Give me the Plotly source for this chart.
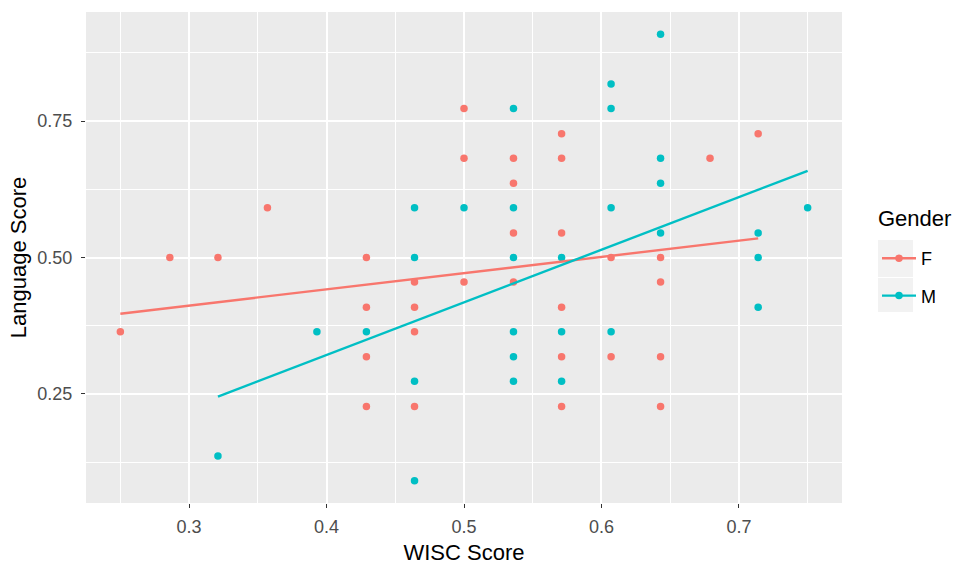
import plotly.graph_objects as go

# ---- data ----
f_wisc = [0.25, 0.286, 0.321, 0.357,
          0.429, 0.429, 0.429, 0.429,
          0.464, 0.464, 0.464, 0.464,
          0.5, 0.5, 0.5,
          0.536, 0.536, 0.536, 0.536,
          0.571, 0.571, 0.571, 0.571, 0.571, 0.571,
          0.607, 0.607,
          0.643, 0.643, 0.643, 0.643,
          0.679, 0.714]
f_lang = [0.364, 0.5, 0.5, 0.591,
          0.5, 0.409, 0.318, 0.227,
          0.455, 0.409, 0.364, 0.227,
          0.773, 0.682, 0.455,
          0.682, 0.636, 0.545, 0.455,
          0.727, 0.682, 0.545, 0.409, 0.318, 0.227,
          0.5, 0.318,
          0.5, 0.455, 0.318, 0.227,
          0.682, 0.727]

m_wisc = [0.321, 0.393, 0.429,
          0.464, 0.464, 0.464, 0.464,
          0.5,
          0.536, 0.536, 0.536, 0.536, 0.536, 0.536,
          0.571, 0.571, 0.571,
          0.607, 0.607, 0.607, 0.607,
          0.643, 0.643, 0.643, 0.643,
          0.714, 0.714, 0.714,
          0.75]
m_lang = [0.136, 0.364, 0.364,
          0.591, 0.5, 0.273, 0.091,
          0.591,
          0.773, 0.591, 0.5, 0.364, 0.318, 0.273,
          0.5, 0.364, 0.273,
          0.818, 0.773, 0.591, 0.364,
          0.909, 0.682, 0.636, 0.545,
          0.545, 0.5, 0.409,
          0.591]

# fitted (lm) line end points
f_fit_x = [0.25, 0.714]
f_fit_y = [0.397, 0.535]
m_fit_x = [0.321, 0.75]
m_fit_y = [0.245, 0.659]

x_ticks = [0.3, 0.4, 0.5, 0.6, 0.7]
x_ticktext = ["0.3", "0.4", "0.5", "0.6", "0.7"]
y_ticks = [0.25, 0.5, 0.75]
y_ticktext = ["0.25", "0.50", "0.75"]

F_COL = "#F8766D"
M_COL = "#00BFC4"
FONT = "Liberation Sans, Arial, sans-serif"

# layout geometry (pixels)
W, H = 957, 565
ML, MR, MT, MB = 86, 115, 12, 62
PW, PH = W - ML - MR, H - MT - MB


def px_x(p):
    return (p - ML) / PW


def px_y(p):
    return (H - MB - p) / PH


def gapped(vals):
    out = []
    for v in vals:
        out += [v, None]
    return out


fig = go.Figure()

for name, xs, ys, col, grp in [("F", f_wisc, f_lang, F_COL, "g1"),
                               ("M", m_wisc, m_lang, M_COL, "g2")]:
    fig.add_trace(go.Scatter(
        x=gapped(xs), y=gapped(ys), name=name, legendgroup=grp,
        mode="lines+markers", connectgaps=False,
        line=dict(color=col, width=2.4),
        marker=dict(color=col, size=7.5),
    ))

for xs, ys, col, grp in [(f_fit_x, f_fit_y, F_COL, "g1"),
                         (m_fit_x, m_fit_y, M_COL, "g2")]:
    fig.add_trace(go.Scatter(
        x=xs, y=ys, mode="lines", legendgroup=grp, showlegend=False,
        line=dict(color=col, width=2.4),
    ))

axis_common = dict(
    showgrid=True, gridcolor="white", gridwidth=1.8,
    zeroline=False, showline=False, automargin=False,
    ticks="outside", ticklen=4, tickwidth=1.1, tickcolor="#333333",
    tickfont=dict(family=FONT, size=18, color="#4D4D4D"),
)

# grey legend key backgrounds
key_boxes = [(878, 913, 240, 277), (878, 913, 278, 312)]
shapes = [dict(type="rect", xref="paper", yref="paper",
               x0=px_x(a), x1=px_x(b), y0=px_y(d), y1=px_y(c),
               fillcolor="#F2F2F2", line=dict(width=0), layer="below")
          for a, b, c, d in key_boxes]

fig.update_layout(
    width=W, height=H,
    margin=dict(l=ML, r=MR, t=MT, b=MB, autoexpand=False),
    paper_bgcolor="white", plot_bgcolor="#EBEBEB",
    font=dict(family=FONT),
    xaxis=dict(range=[0.225, 0.775], tickvals=x_ticks, ticktext=x_ticktext,
               ticklabelstandoff=3,
               minor=dict(tick0=0.25, dtick=0.1, showgrid=True,
                          gridcolor="white", gridwidth=0.9, ticks=""),
               title=dict(text="WISC Score",
                          font=dict(family=FONT, size=22, color="black")),
               **axis_common),
    yaxis=dict(range=[0.05, 0.95], tickvals=y_ticks, ticktext=y_ticktext,
               ticklabelstandoff=5,
               minor=dict(tick0=0.125, dtick=0.25, showgrid=True,
                          gridcolor="white", gridwidth=0.9, ticks=""),
               title=dict(text="Language Score", standoff=4,
                          font=dict(family=FONT, size=22, color="black")),
               **axis_common),
    legend=dict(
        x=px_x(877), xanchor="left", y=px_y(240), yanchor="top",
        font=dict(family=FONT, size=18, color="black"),
        bgcolor="rgba(0,0,0,0)", tracegroupgap=11, itemwidth=34,
    ),
    annotations=[dict(text="Gender", xref="paper", yref="paper",
                      x=px_x(876), y=px_y(218), xanchor="left", yanchor="middle",
                      showarrow=False,
                      font=dict(family=FONT, size=22, color="black"))],
    shapes=shapes,
    showlegend=True,
)

fig.write_html("out.html",
               config={"displayModeBar": False},
               post_script="document.body.style.margin='0';")
